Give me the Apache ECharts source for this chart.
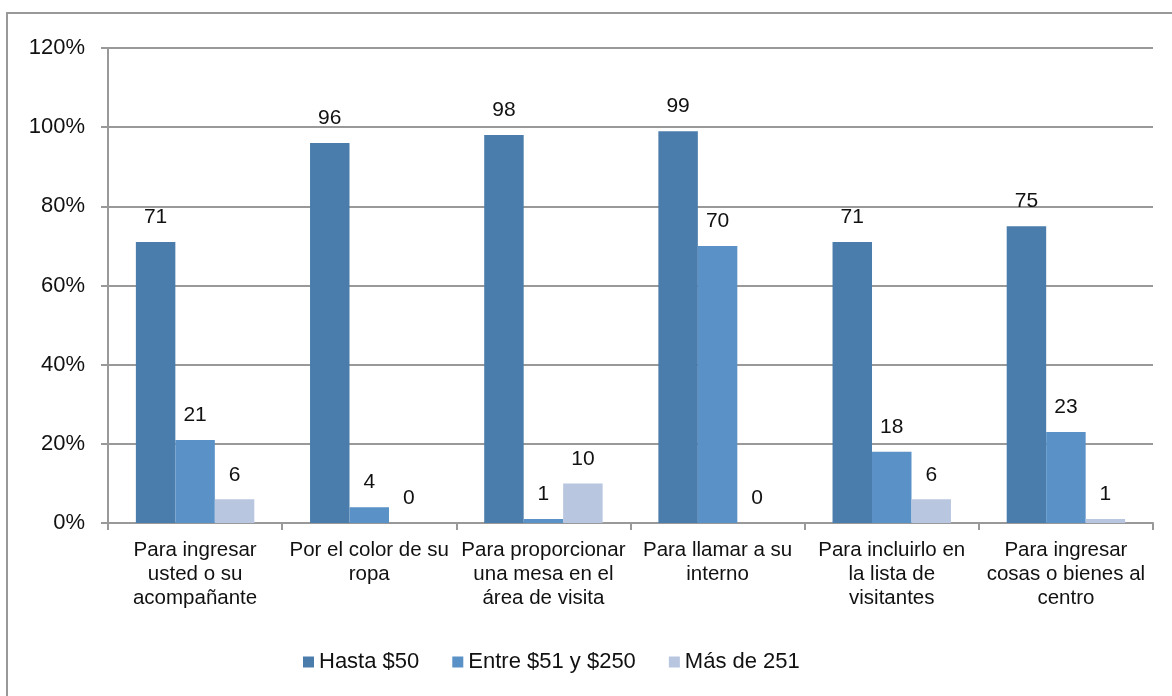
<!DOCTYPE html>
<html>
<head>
<meta charset="utf-8">
<script src="https://cdn.jsdelivr.net/npm/echarts@6/dist/echarts.min.js"></script>
<style>
html,body{margin:0;padding:0;background:#fff;}
#chart{width:1172px;height:696px;}
</style>
</head>
<body>
<div id="chart"></div>
<script>
var categories = [
  "Para ingresar\nusted o su\nacompañante",
  "Por el color de su\nropa",
  "Para proporcionar\nuna mesa en el\nárea de visita",
  "Para llamar a su\ninterno",
  "Para incluirlo en\nla lista de\nvisitantes",
  "Para ingresar\ncosas o bienes al\ncentro"
];
var seriesNames = ["Hasta $50", "Entre $51 y $250", "Más de 251"];
var hasta50 = [71, 96, 98, 99, 71, 75];
var entre51y250 = [21, 4, 1, 70, 18, 23];
var masDe251 = [6, 0, 10, 0, 6, 1];
var yTicks = [0, 20, 40, 60, 80, 100, 120];

var colors = ["#4a7dab", "#5a91c6", "#b8c6e0"];
var font = "'Liberation Sans', Arial, sans-serif";

var chart = echarts.init(document.getElementById('chart'));
function mk(name, data, color) {
  return {
    name: name,
    type: 'bar',
    data: data,
    barGap: '0%',
    barCategoryGap: '32%',
    itemStyle: { color: color },
    label: {
      show: true,
      position: 'top',
      distance: 14,
      color: '#111',
      fontSize: 21,
      fontFamily: font
    },
    emphasis: { disabled: true }
  };
}
chart.setOption({
  animation: false,
  color: colors,
  graphic: [{
    type: 'rect',
    shape: { x: 7, y: 13, width: 1200, height: 720 },
    style: { fill: 'none', stroke: '#999', lineWidth: 2 },
    silent: true
  }],
  grid: { left: 108, right: 19, top: 48, bottom: 173, containLabel: false },
  legend: {
    top: 646,
    left: 298,
    itemWidth: 11,
    itemHeight: 11,
    itemGap: 33,
    icon: 'rect',
    textStyle: { fontSize: 22, color: '#111', fontFamily: font },
    data: seriesNames
  },
  xAxis: {
    type: 'category',
    data: categories,
    axisLine: { lineStyle: { color: '#999', width: 2 } },
    axisTick: { show: true, length: 7, lineStyle: { color: '#999', width: 2 } },
    axisLabel: {
      interval: 0,
      margin: 15,
      fontSize: 20.5,
      lineHeight: 24,
      color: '#111',
      fontFamily: font,
      align: 'center'
    }
  },
  yAxis: {
    type: 'value',
    min: yTicks[0],
    max: yTicks[yTicks.length - 1],
    interval: 20,
    axisLine: { show: true, lineStyle: { color: '#999', width: 2 } },
    axisTick: { show: true, length: 7, lineStyle: { color: '#999', width: 2 } },
    splitLine: { lineStyle: { color: '#999', width: 2 } },
    axisLabel: {
      formatter: '{value}%',
      fontSize: 22,
      color: '#111',
      margin: 23,
      fontFamily: font
    }
  },
  series: [
    mk(seriesNames[0], hasta50, colors[0]),
    mk(seriesNames[1], entre51y250, colors[1]),
    mk(seriesNames[2], masDe251, colors[2])
  ]
});
</script>
</body>
</html>
